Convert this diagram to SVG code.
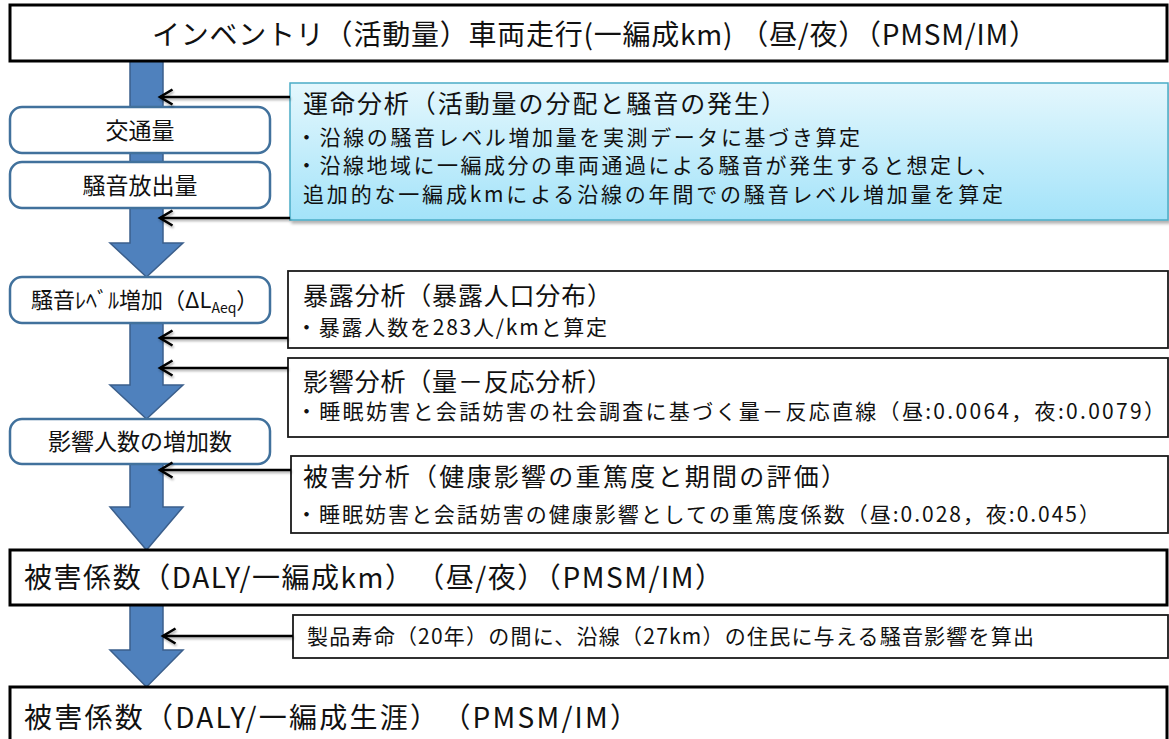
<svg xmlns="http://www.w3.org/2000/svg" width="1169" height="739" viewBox="0 0 1169 739">
<defs>
<linearGradient id="lb" x1="0" y1="0" x2="0" y2="1">
<stop offset="0" stop-color="#E4F7FD"/>
<stop offset="1" stop-color="#A3E3F9"/>
</linearGradient>
<filter id="sh" x="-5%" y="-10%" width="110%" height="130%">
<feDropShadow dx="2" dy="3" stdDeviation="1.5" flood-color="#000" flood-opacity="0.3"/>
</filter>
<filter id="lsh" x="-5%" y="-50%" width="110%" height="200%">
<feDropShadow dx="1" dy="2" stdDeviation="1" flood-color="#000" flood-opacity="0.3"/>
</filter>
<marker id="chev" markerUnits="userSpaceOnUse" markerWidth="18" markerHeight="20" refX="14" refY="9" orient="auto" viewBox="0 0 18 20">
<path d="M1.5,1.5 L14,9 L1.5,16.5" fill="none" stroke="#000" stroke-width="2.6" stroke-linejoin="miter"/>
</marker>
</defs>
<style>
text{font-family:"Noto Sans CJK JP","Noto Sans",sans-serif;fill:#111;}
.big{font-size:28px;}
.ttl{font-size:25px;}
.body{font-size:21px;}
.lbl{font-size:23px;text-anchor:middle;}
.flow{fill:#4F81BD;stroke:#3B5F8C;stroke-width:1.5;}
.rbox{fill:#fff;stroke:#41719C;stroke-width:2.5;}
.main{fill:#fff;stroke:#000;stroke-width:3;}
.side{fill:#fff;stroke:#1a1a1a;stroke-width:1.8;}
.conn{fill:none;stroke:#000;stroke-width:2.6;marker-end:url(#chev);}
</style>

<g id="flow-arrows">
<polygon class="flow" points="130,60 163,60 163,243 183,243 146.5,277 110,243 130,243"/>
<polygon class="flow" points="130,322 163,322 163,385 183,385 146.5,419 110,385 130,385"/>
<polygon class="flow" points="130,463 163,463 163,507 183,507 146.5,550 110,507 130,507"/>
<polygon class="flow" points="130,605 163,605 163,650 183,650 146.5,687 110,650 130,650"/>
</g>

<g id="top">
<rect class="main" x="10" y="5" width="1157" height="56"/>
<text class="big" x="152" y="45" textLength="885" lengthAdjust="spacing">インベントリ（活動量）車両走行(一編成km) （昼/夜）（PMSM/IM）</text>
</g>

<g id="traffic">
<rect class="rbox" x="10" y="107" width="260" height="46" rx="12"/>
<text class="lbl" x="140" y="139">交通量</text>
</g>
<g id="emission">
<rect class="rbox" x="10" y="162" width="260" height="46" rx="12"/>
<text class="lbl" x="140" y="194">騒音放出量</text>
</g>
<g id="noise-increase">
<rect class="rbox" x="10" y="277" width="260" height="46" rx="12"/>
<text style="font-size:22px" x="31" y="308">騒音ﾚﾍﾞﾙ増加（ΔL<tspan style="font-size:14px" dy="5">Aeq</tspan><tspan dy="-5">）</tspan></text>
</g>
<g id="affected">
<rect class="rbox" x="10" y="419" width="260" height="45" rx="12"/>
<text class="lbl" x="140" y="450">影響人数の増加数</text>
</g>

<g id="fate">
<rect x="290" y="83" width="878" height="137" fill="url(#lb)" stroke="#4BACC6" stroke-width="1.5" filter="url(#sh)"/>
<text class="ttl" x="303" y="113" textLength="483" lengthAdjust="spacing">運命分析（活動量の分配と騒音の発生）</text>
<text class="body" x="296" y="145" textLength="564" lengthAdjust="spacing">・沿線の騒音レベル増加量を実測データに基づき算定</text>
<text class="body" x="296" y="173" textLength="702" lengthAdjust="spacing">・沿線地域に一編成分の車両通過による騒音が発生すると想定し、</text>
<text class="body" x="303" y="202" textLength="700" lengthAdjust="spacing">追加的な一編成kmによる沿線の年間での騒音レベル増加量を算定</text>
</g>

<g id="exposure">
<rect class="side" x="288" y="271" width="880" height="77"/>
<text class="ttl" x="303" y="305" textLength="309" lengthAdjust="spacing">暴露分析（暴露人口分布）</text>
<text class="body" x="296" y="335" textLength="311" lengthAdjust="spacing">・暴露人数を283人/kmと算定</text>
</g>

<g id="effect">
<rect class="side" x="288" y="358" width="880" height="79"/>
<text class="ttl" x="303" y="391" textLength="309" lengthAdjust="spacing">影響分析（量－反応分析）</text>
<text class="body" x="296" y="419" textLength="869" lengthAdjust="spacing">・睡眠妨害と会話妨害の社会調査に基づく量－反応直線（昼:0.0064，夜:0.0079）</text>
</g>

<g id="damage">
<rect class="side" x="291" y="456" width="877" height="77"/>
<text class="ttl" x="303" y="486" textLength="543" lengthAdjust="spacing">被害分析（健康影響の重篤度と期間の評価）</text>
<text class="body" x="296" y="522" textLength="804" lengthAdjust="spacing">・睡眠妨害と会話妨害の健康影響としての重篤度係数（昼:0.028，夜:0.045）</text>
</g>

<g id="factor-km">
<rect class="main" x="10" y="550" width="1157" height="55"/>
<text class="big" x="24" y="588" textLength="699" lengthAdjust="spacing">被害係数（DALY/一編成km）　（昼/夜）（PMSM/IM）</text>
</g>

<g id="lifetime-note">
<rect class="side" x="293" y="615" width="875" height="43"/>
<text style="font-size:21px" x="307" y="644" textLength="727" lengthAdjust="spacing">製品寿命（20年）の間に、沿線（27km）の住民に与える騒音影響を算出</text>
</g>

<g id="factor-life">
<rect class="main" x="10" y="687" width="1157" height="60"/>
<text class="big" x="24" y="728" textLength="614" lengthAdjust="spacing">被害係数（DALY/一編成生涯）　（PMSM/IM）</text>
</g>

<g id="connectors" filter="url(#lsh)">
<line class="conn" x1="290" y1="97" x2="160" y2="97"/>
<line class="conn" x1="290" y1="218" x2="160" y2="218"/>
<line class="conn" x1="288" y1="338" x2="160" y2="338"/>
<line class="conn" x1="288" y1="368" x2="160" y2="368"/>
<line class="conn" x1="291" y1="470" x2="160" y2="470"/>
<line class="conn" x1="293" y1="636" x2="163" y2="636"/>
</g>
</svg>
